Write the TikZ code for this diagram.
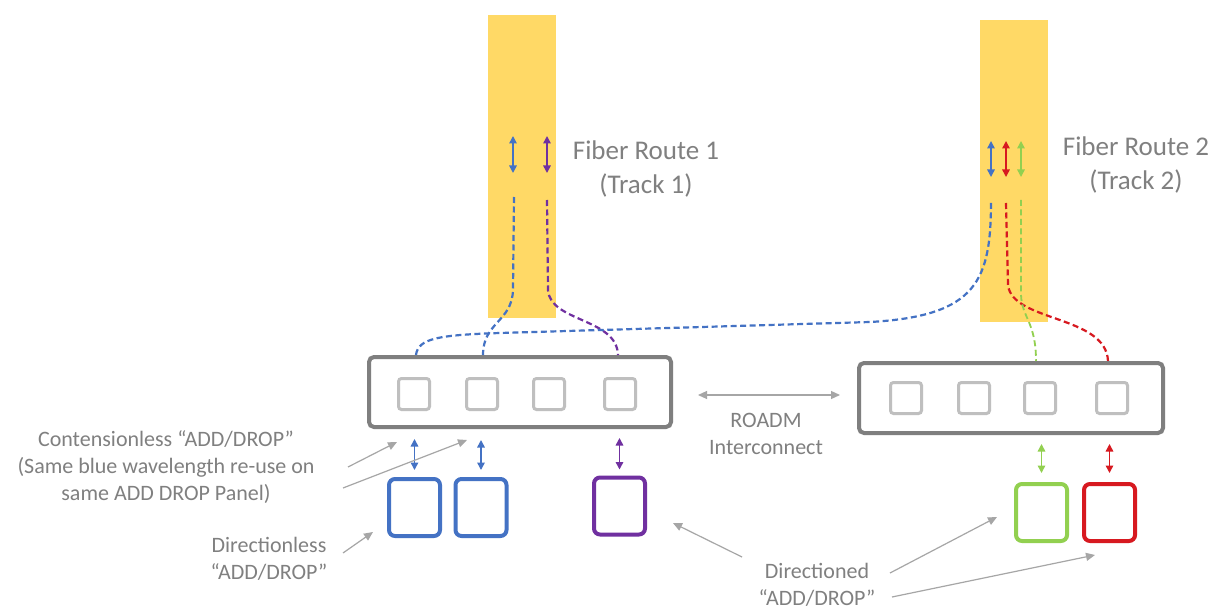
\documentclass[tikz,border=0pt]{standalone}
\usepackage{fontspec}
\setmainfont{Carlito}
\usetikzlibrary{arrows.meta,calc}
\definecolor{fy}{HTML}{FFD966}
\definecolor{cblue}{HTML}{4472C4}
\definecolor{cpurple}{HTML}{7030A0}
\definecolor{cgreen}{HTML}{92D050}
\definecolor{cred}{HTML}{D71920}
\definecolor{boxgray}{HTML}{7F7F7F}
\definecolor{sqgray}{HTML}{BFBFBF}
\definecolor{txtgray}{HTML}{808080}
\definecolor{argray}{HTML}{A6A6A6}
\begin{document}
\begin{tikzpicture}[x=1pt,y=-1pt,
  bar/.style={fill=fy,draw=none,inner sep=0pt},
  panel/.style={draw=boxgray,line width=4pt,rounded corners=5pt,fill=white,inner sep=0pt},
  sq/.style={draw=sqgray,line width=3pt,rounded corners=3pt,minimum width=31pt,minimum height=31pt,inner sep=0pt},
  adbox/.style={line width=4pt,rounded corners=6pt,minimum width=51pt,minimum height=57pt,inner sep=0pt,fill=white},
  darr/.style={line width=1.5pt,{Triangle[length=7.5pt,width=7.5pt]}-{Triangle[length=7.5pt,width=7.5pt]}},
  fib/.style={line width=2.2pt,dash pattern=on 6pt off 3.5pt},
  ann/.style={draw=argray,line width=1.2pt,-{Triangle[length=9pt,width=8pt]}},
  lblA/.style={text=txtgray,align=center,inner sep=0pt,font=\fontsize{27}{33}\selectfont},
  lblB/.style={text=txtgray,align=center,inner sep=0pt,font=\fontsize{22}{27}\selectfont}
]
\useasboundingbox (0,0) rectangle (1215,612);
\fill[white] (0,0) rectangle (1215,612);

% fiber route bars
\node[bar,minimum width=68pt,minimum height=303pt] (bar1) at (522,166.5) {};
\node[bar,minimum width=68pt,minimum height=302pt] (bar2) at (1014,171) {};

% ROADM panels
\node[panel,minimum width=302pt,minimum height=70pt] (box1) at (520,392) {};
\node[panel,minimum width=304pt,minimum height=70pt] (box2) at (1011,398) {};

\node[sq] (s11) at (414,394) {};
\node[sq] (s12) at (482,394) {};
\node[sq] (s13) at (549,394) {};
\node[sq] (s14) at (620,394) {};
\node[sq] (s21) at (906,398) {};
\node[sq] (s22) at (974,398) {};
\node[sq] (s23) at (1040,398) {};
\node[sq] (s24) at (1112,398) {};

% add/drop boxes
\node[adbox,draw=cblue] (lb1) at (414.5,507.5) {};
\node[adbox,draw=cblue] (lb2) at (481,507.5) {};
\node[adbox,draw=cpurple] (lb3) at (619.5,506) {};
\node[adbox,draw=cgreen] (lb4) at (1041.5,512.5) {};
\node[adbox,draw=cred] (lb5) at (1109.5,512.5) {};

% double arrows between panels and add/drop boxes
\draw[darr,cblue,shorten <=10pt,shorten >=7pt] (box1.south -| lb1) -- (lb1.north);
\draw[darr,cblue,shorten <=11pt,shorten >=7pt] (box1.south -| lb2) -- (lb2.north);
\draw[darr,cpurple,shorten <=9pt,shorten >=6pt] (box1.south -| lb3) -- (lb3.north);
\draw[darr,cgreen,shorten <=9pt,shorten >=9pt] (box2.south -| lb4) -- (lb4.north);
\draw[darr,cred,shorten <=9pt,shorten >=9pt] (box2.south -| lb5) -- (lb5.north);

% arrows in fiber bars
\coordinate (ab1t) at (513,136); \coordinate (ab1b) at (513,173);
\coordinate (ap1t) at (547,136); \coordinate (ap1b) at (547,173);
\coordinate (ab2t) at (991,141); \coordinate (ab2b) at (991,177);
\coordinate (ar2t) at (1006,141); \coordinate (ar2b) at (1006,177);
\coordinate (ag2t) at (1021,141); \coordinate (ag2b) at (1021,177);
\draw[darr,cblue] (ab1t) -- (ab1b);
\draw[darr,cpurple] (ap1t) -- (ap1b);
\draw[darr,cblue] (ab2t) -- (ab2b);
\draw[darr,cred] (ar2t) -- (ar2b);
\draw[darr,cgreen] (ag2t) -- (ag2b);

% dashed fibers
\coordinate (fb1) at (514,197);
\coordinate (fp1) at (547,200);
\coordinate (fb2) at (991,200);
\coordinate (fr2) at (1006,203);
\coordinate (fg2) at (1021,200);
\draw[fib,cblue] (fb1) -- (513,290) .. controls (512,322) and (483,322) .. ([xshift=1pt]s12 |- box1.north);
\draw[fib,cpurple] (fp1) -- (548,290) .. controls (550,322) and (617,318) .. ([xshift=-2pt]s14 |- box1.north);
\draw[fib,cblue] ([xshift=2pt]s11 |- box1.north) .. controls (418,338) and (440,335) .. (500,333)
  -- (870,322) .. controls (978,316) and (991,280) .. (fb2);
\draw[fib,cred] (fr2) -- (1008,285) .. controls (1012,322) and (1106,315) .. ([xshift=-4pt]s24 |- box2.north);
\draw[fib,cgreen,line width=1.8pt] (fg2) -- (1021,295) .. controls (1022,318) and (1036,322) .. ([xshift=-4pt]s23 |- box2.north);

% ROADM interconnect arrow
\coordinate (ri1) at (698,395);
\coordinate (ri2) at (840,395);
\draw[draw=argray,line width=1.2pt,{Triangle[length=9pt,width=8pt]}-{Triangle[length=9pt,width=8pt]}] (ri1) -- (ri2);

% labels
\node[lblA] (tfr1) at (646,169) {Fiber Route 1\\(Track 1)};
\node[lblA] (tfr2) at (1136,165) {Fiber Route 2\\(Track 2)};
\node[lblB] (troadm) at (766,434) {ROADM\\Interconnect};
\node[lblB] (tcont) at (166,467) {Contensionless “ADD/DROP”\\(Same blue wavelength re-use on\\same ADD DROP Panel)};
\node[lblB] (tdirl) at (269,559) {Directionless\\“ADD/DROP”};
\node[lblB] (tdirn) at (817,585) {Directioned\\“ADD/DROP”};

% annotation arrows
\coordinate (c1a) at (348,467); \coordinate (c1b) at (397,442);
\coordinate (c2a) at (343,488); \coordinate (c2b) at (467,440);
\coordinate (d1a) at (343,553); \coordinate (d1b) at (373,532);
\coordinate (e1a) at (742,557); \coordinate (e1b) at (673,523);
\coordinate (e2a) at (890,573); \coordinate (e2b) at (997,517);
\coordinate (e3a) at (892,597); \coordinate (e3b) at (1095,555);
\draw[ann] (c1a) -- (c1b);
\draw[ann] (c2a) -- (c2b);
\draw[ann] (d1a) -- (d1b);
\draw[ann] (e1a) -- (e1b);
\draw[ann] (e2a) -- (e2b);
\draw[ann] (e3a) -- (e3b);
\end{tikzpicture}
\end{document}
